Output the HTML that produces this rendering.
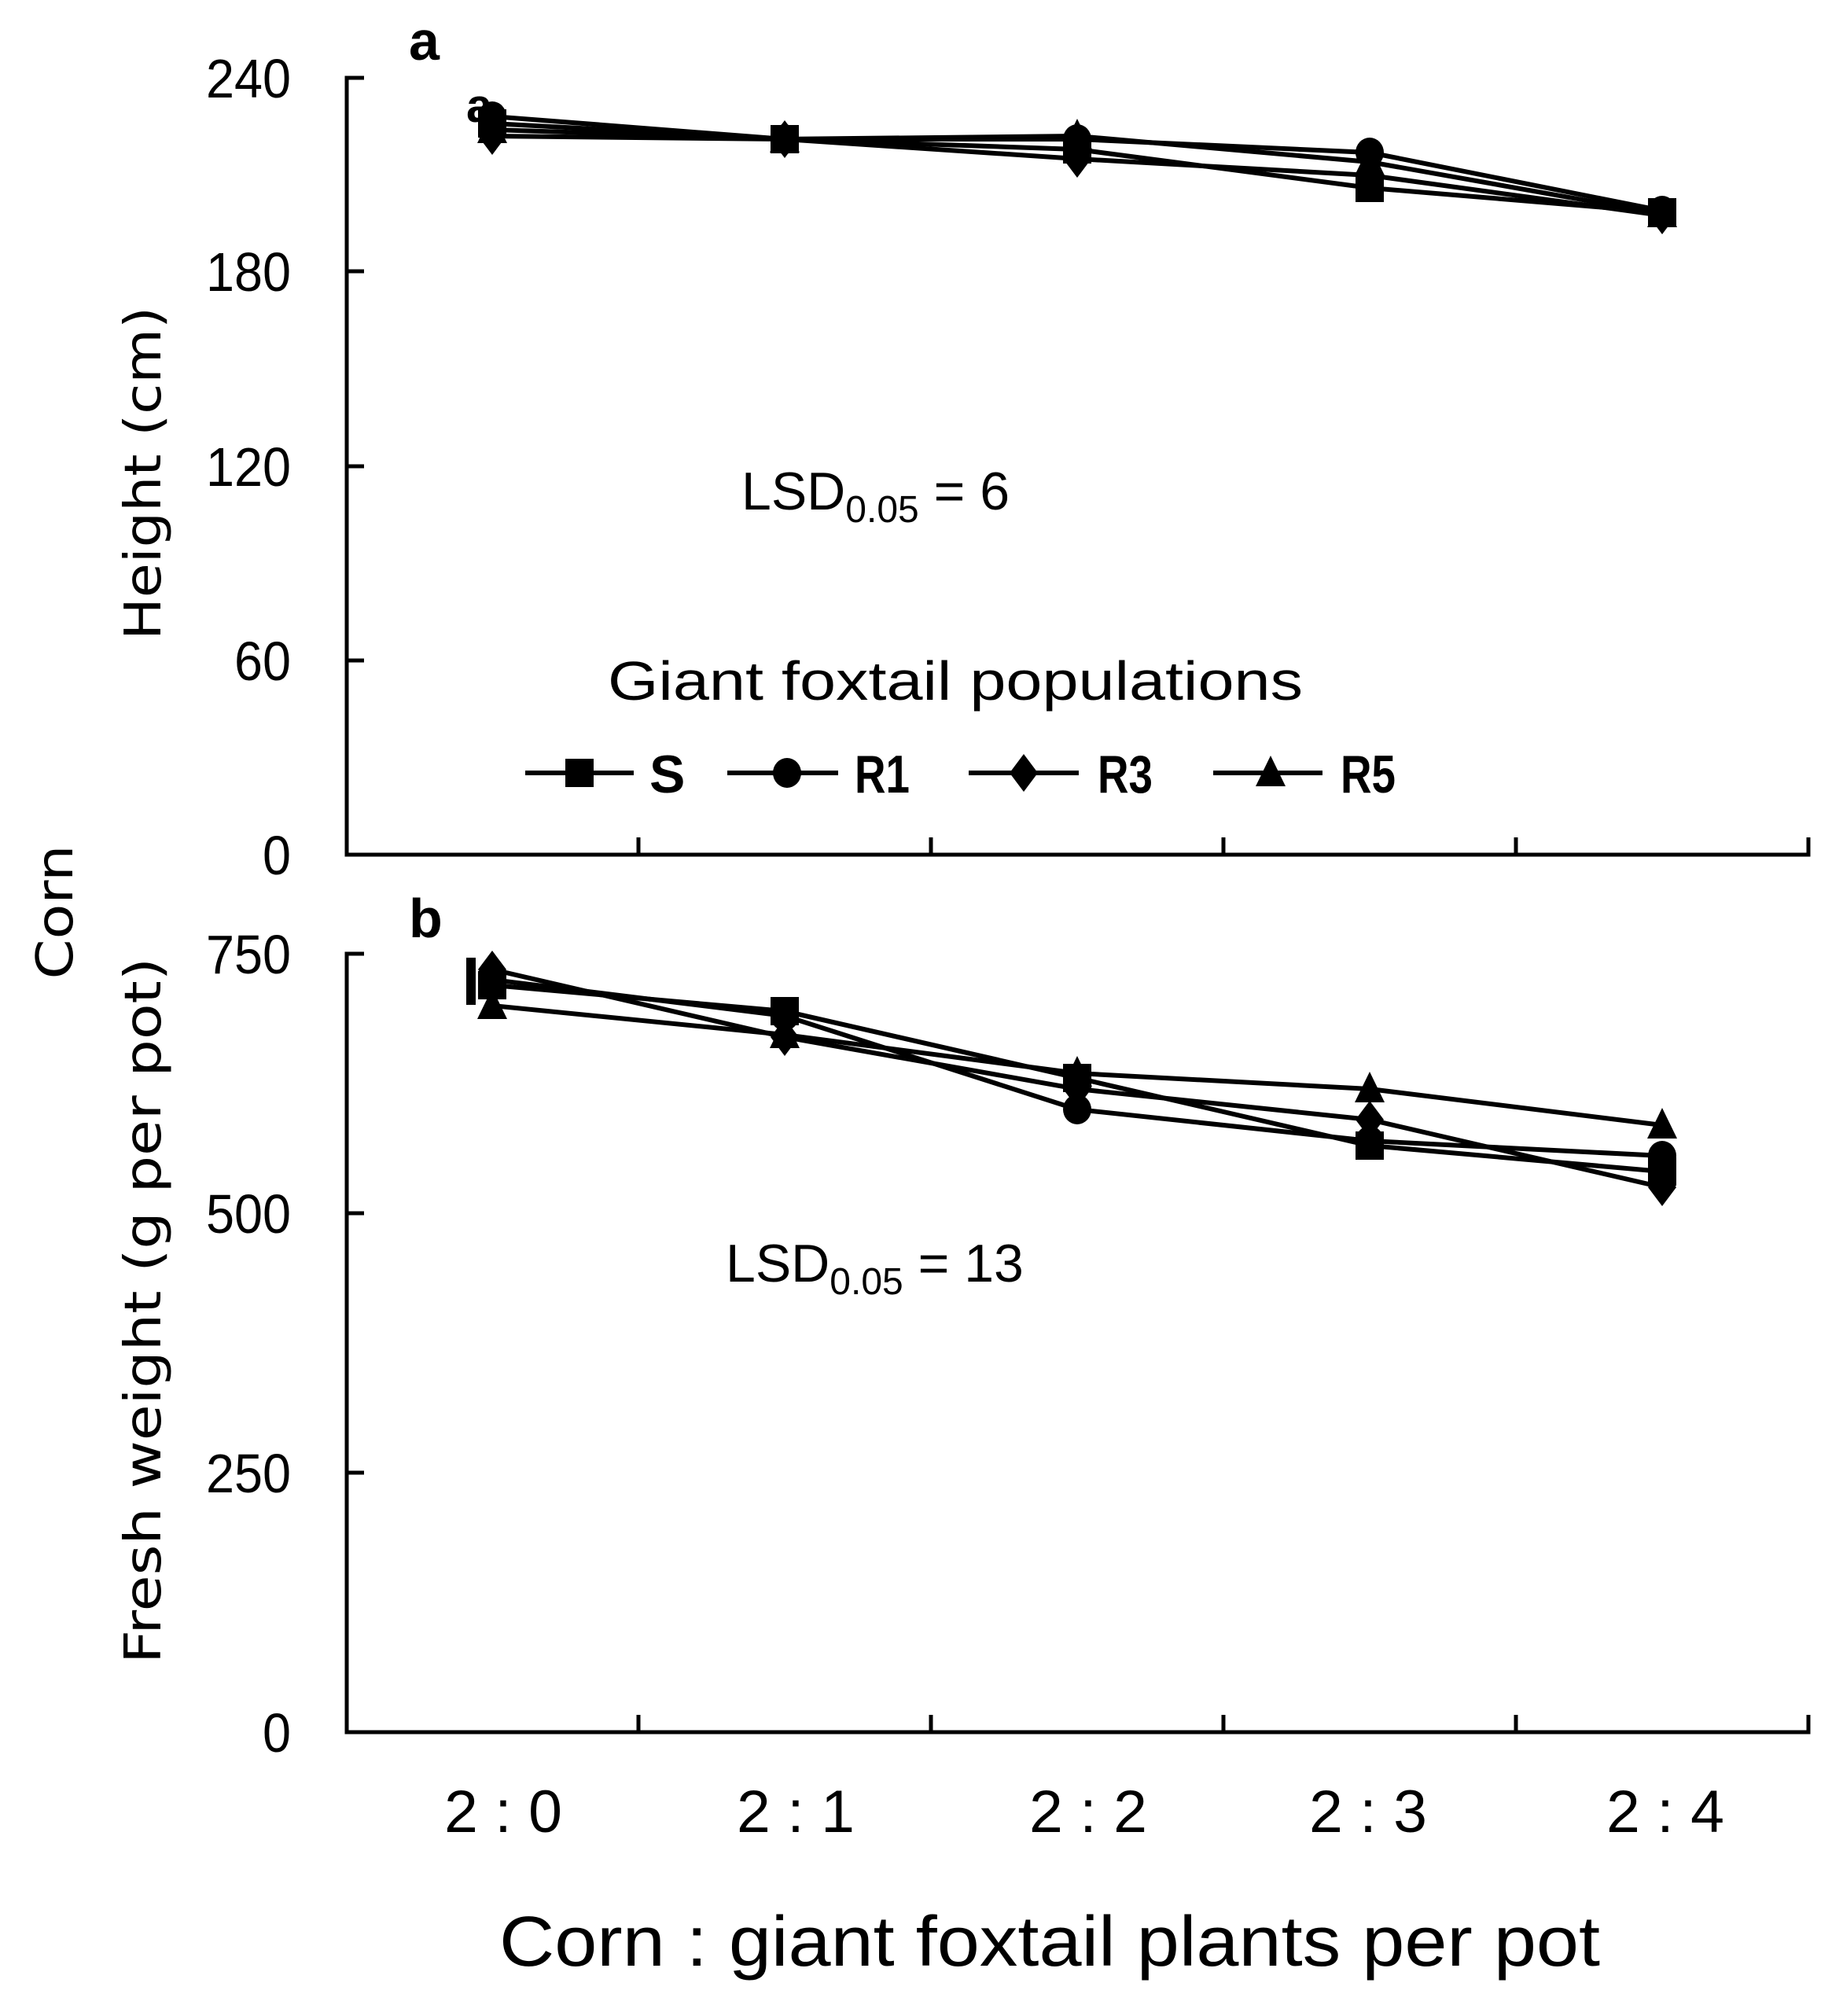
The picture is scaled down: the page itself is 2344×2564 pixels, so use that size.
<!DOCTYPE html>
<html><head><style>html,body{margin:0;padding:0;background:#fff}</style></head><body>
<svg width="2344" height="2559" viewBox="0 0 2344 2559" xmlns="http://www.w3.org/2000/svg">
<defs>
<g id="sq"><rect x="-18" y="-18" width="36" height="36" fill="#000"/></g>
<g id="ci"><ellipse cx="0" cy="0" rx="18" ry="19" fill="#000"/></g>
<g id="di"><polygon points="0,-24 18,0 0,24 -18,0" fill="#000"/></g>
<g id="tr"><polygon points="0,-22 19,17 -19,17" fill="#000"/></g>
</defs>
<g stroke="#000" stroke-width="5" fill="none">
<polyline points="463,99 441,99 441,1087 2300,1087 2300,1065"/>
<line x1="441" y1="345" x2="463" y2="345"/><line x1="441" y1="593" x2="463" y2="593"/><line x1="441" y1="840" x2="463" y2="840"/>
<line x1="812" y1="1087" x2="812" y2="1065"/><line x1="1184" y1="1087" x2="1184" y2="1065"/><line x1="1556" y1="1087" x2="1556" y2="1065"/><line x1="1928" y1="1087" x2="1928" y2="1065"/>
<polyline points="463,1213 441,1213 441,2203 2300,2203 2300,2181"/>
<line x1="441" y1="1543" x2="463" y2="1543"/><line x1="441" y1="1873" x2="463" y2="1873"/>
<line x1="812" y1="2203" x2="812" y2="2181"/><line x1="1184" y1="2203" x2="1184" y2="2181"/><line x1="1556" y1="2203" x2="1556" y2="2181"/><line x1="1928" y1="2203" x2="1928" y2="2181"/>
</g>
<g font-family="Liberation Sans, sans-serif" font-size="70" fill="#000" text-anchor="end">
<text x="370" y="124" textLength="108" lengthAdjust="spacingAndGlyphs">240</text><text x="370" y="370" textLength="108" lengthAdjust="spacingAndGlyphs">180</text><text x="370" y="618" textLength="108" lengthAdjust="spacingAndGlyphs">120</text><text x="370" y="865" textLength="72" lengthAdjust="spacingAndGlyphs">60</text><text x="370" y="1112" textLength="36" lengthAdjust="spacingAndGlyphs">0</text>
<text x="370" y="1238" textLength="108" lengthAdjust="spacingAndGlyphs">750</text><text x="370" y="1568" textLength="108" lengthAdjust="spacingAndGlyphs">500</text><text x="370" y="1898" textLength="108" lengthAdjust="spacingAndGlyphs">250</text><text x="370" y="2228" textLength="36" lengthAdjust="spacingAndGlyphs">0</text>
</g>
<g font-family="DejaVu Sans, sans-serif" font-size="64" fill="#000" text-anchor="middle">
<text transform="translate(204,602) rotate(-90)" textLength="424" lengthAdjust="spacingAndGlyphs">Height (cm)</text>
<text transform="translate(204,1667) rotate(-90)" textLength="898" lengthAdjust="spacingAndGlyphs">Fresh weight (g per pot)</text>
<text transform="translate(92,1160) rotate(-90)" textLength="171" lengthAdjust="spacingAndGlyphs">Corn</text>
</g>
<g font-family="Liberation Sans, sans-serif" font-weight="bold" font-size="70" fill="#000">
<text x="520" y="76">a</text><text x="520" y="1192">b</text>
<text x="593" y="155" font-size="60">a</text>
</g>
<g font-family="Liberation Sans, sans-serif" font-size="68" fill="#000">
<text x="943" y="648">LSD<tspan font-size="48" dy="16">0.05</tspan><tspan dy="-16"> = 6</tspan></text>
<text x="923" y="1630">LSD<tspan font-size="48" dy="16">0.05</tspan><tspan dy="-16"> = 13</tspan></text>
<text x="773" y="890" font-size="70" textLength="884" lengthAdjust="spacingAndGlyphs">Giant foxtail populations</text>
</g>
<g stroke="#000" stroke-width="6">
<line x1="668" y1="983" x2="806" y2="983"/><line x1="925" y1="983" x2="1066" y2="983"/><line x1="1232" y1="983" x2="1372" y2="983"/><line x1="1543" y1="983" x2="1682" y2="983"/>
</g>
<use href="#sq" x="737" y="983"/><use href="#ci" x="1001" y="983"/><use href="#di" x="1302" y="983"/><use href="#tr" x="1616" y="983"/>
<g font-family="Liberation Sans, sans-serif" font-weight="bold" font-size="68" fill="#000">
<text x="826" y="1008">S</text><text x="1087" y="1008" textLength="70" lengthAdjust="spacingAndGlyphs">R1</text><text x="1396" y="1008" textLength="70" lengthAdjust="spacingAndGlyphs">R3</text><text x="1705" y="1008" textLength="70" lengthAdjust="spacingAndGlyphs">R5</text>
</g>
<g stroke="#000" stroke-width="6" fill="none">
<polyline points="626,157 998,177 1370,190 1742,239 2114,270"/>
<polyline points="626,148 998,177 1370,177 1742,194 2114,268"/>
<polyline points="626,173 998,177 1370,202 1742,223 2114,274"/>
<polyline points="626,165 998,177 1370,173 1742,206 2114,272"/>
</g>
<g>
<use href="#sq" x="626" y="157"/><use href="#sq" x="998" y="177"/><use href="#sq" x="1370" y="190"/><use href="#sq" x="1742" y="239"/><use href="#sq" x="2114" y="270"/>
<use href="#ci" x="626" y="148"/><use href="#ci" x="998" y="177"/><use href="#ci" x="1370" y="177"/><use href="#ci" x="1742" y="194"/><use href="#ci" x="2114" y="268"/>
<use href="#di" x="626" y="173"/><use href="#di" x="998" y="177"/><use href="#di" x="1370" y="202"/><use href="#di" x="1742" y="223"/><use href="#di" x="2114" y="274"/>
<use href="#tr" x="626" y="165"/><use href="#tr" x="998" y="177"/><use href="#tr" x="1370" y="173"/><use href="#tr" x="1742" y="206"/><use href="#tr" x="2114" y="272"/>
</g>
<g stroke="#000" stroke-width="6" fill="none">
<polyline points="626,1253 998,1286 1370,1371 1742,1457 2114,1490"/>
<polyline points="626,1246 998,1292 1370,1411 1742,1451 2114,1470"/>
<polyline points="626,1233 998,1319 1370,1385 1742,1424 2114,1510"/>
<polyline points="626,1279 998,1316 1370,1365 1742,1385 2114,1431"/>
</g>
<g>
<use href="#sq" x="626" y="1253"/><use href="#sq" x="998" y="1286"/><use href="#sq" x="1370" y="1371"/><use href="#sq" x="1742" y="1457"/><use href="#sq" x="2114" y="1490"/>
<use href="#ci" x="626" y="1246"/><use href="#ci" x="998" y="1292"/><use href="#ci" x="1370" y="1411"/><use href="#ci" x="1742" y="1451"/><use href="#ci" x="2114" y="1470"/>
<use href="#di" x="626" y="1233"/><use href="#di" x="998" y="1319"/><use href="#di" x="1370" y="1385"/><use href="#di" x="1742" y="1424"/><use href="#di" x="2114" y="1510"/>
<use href="#tr" x="626" y="1279"/><use href="#tr" x="998" y="1316"/><use href="#tr" x="1370" y="1365"/><use href="#tr" x="1742" y="1385"/><use href="#tr" x="2114" y="1431"/>
</g>
<rect x="593" y="1218" width="12" height="60" fill="#000"/>
<g font-family="Liberation Sans, sans-serif" font-size="76" fill="#000" text-anchor="middle">
<text x="640" y="2330" textLength="150" lengthAdjust="spacingAndGlyphs">2 : 0</text><text x="1012" y="2330" textLength="150" lengthAdjust="spacingAndGlyphs">2 : 1</text><text x="1384" y="2330" textLength="150" lengthAdjust="spacingAndGlyphs">2 : 2</text><text x="1740" y="2330" textLength="150" lengthAdjust="spacingAndGlyphs">2 : 3</text><text x="2118" y="2330" textLength="150" lengthAdjust="spacingAndGlyphs">2 : 4</text>
<text x="1335" y="2500" font-size="90" textLength="1400" lengthAdjust="spacingAndGlyphs">Corn : giant foxtail plants per pot</text>
</g>
</svg>
</body></html>
